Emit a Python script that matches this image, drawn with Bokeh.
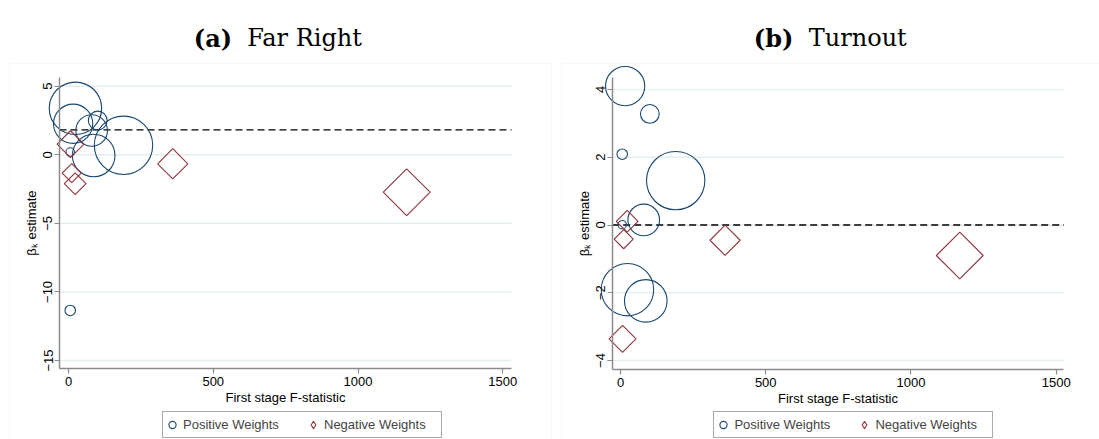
import numpy as np
from bokeh.plotting import figure
from bokeh.layouts import row
from bokeh.models import (ColumnDataSource, Label, Legend, LegendItem,
                          FixedTicker, Range1d, BoxAnnotation)
from bokeh.embed import file_html
from bokeh.resources import INLINE

# ---------------- data ----------------
# first-stage F statistics of each instrument (shared by both panels)
pos_f = [24, 16, 101, 80, 87, 190, 6, 6]
neg_f = [7, 11, 23, 360, 1168]
# absolute weights (marker area proportional to weight)
pos_w = [0.25, 0.14, 0.032, 0.091, 0.165, 0.31, 0.0065, 0.010]
neg_w = [0.066, 0.033, 0.043, 0.083, 0.20]
# beta_k estimates
far_right_pos = [3.39, 2.26, 2.5, 1.77, -0.05, 0.69, 0.2, -11.35]
far_right_neg = [0.77, -1.34, -2.11, -0.66, -2.73]
turnout_pos = [-1.91, 4.10, 3.28, 0.15, -2.24, 1.31, 0.01, 2.09]
turnout_neg = [-3.36, -0.42, 0.11, -0.45, -0.90]
# overall estimates (dashed lines)
far_right_beta = 1.82
turnout_beta = 0.0

x_ticks = [0, 500, 1000, 1500]
far_right_yticks = [-15, -10, -5, 0, 5]
turnout_yticks = [-4, -2, 0, 2, 4]

NAVY = "#1a476f"
MAROON = "#90353b"
AXIS = "#8c8c8c"
SANS = "Liberation Sans"
SERIF = "DejaVu Serif"
PX_PER_SQRT_W = 52.4
H = 439


def lin(p0, v0, p1, v1):
    k = (v1 - v0) / (p1 - p0)
    return lambda px: v0 + (px - p0) * k


def panel(width, xanchor, yanchor, ax_left, ax_right, ax_top, ax_bottom,
          yticks, ypos, yneg, beta, tag, name, tag_x, name_x,
          box_left, box_right, leg_x):
    fx = lin(*xanchor)
    fy = lin(*yanchor)
    p = figure(width=width, height=H, output_backend="svg", toolbar_location=None,
               x_range=Range1d(fx(0), fx(width)), y_range=Range1d(fy(H), fy(0)),
               min_border=0, min_border_left=0, min_border_right=0,
               min_border_top=0, min_border_bottom=0)
    p.title = None
    p.outline_line_color = None
    p.background_fill_color = "white"
    p.border_fill_color = "white"
    p.xgrid.visible = False
    p.ygrid.visible = False

    x_lo, x_hi = fx(ax_left), fx(ax_right)
    y_lo, y_hi = fy(ax_bottom), fy(ax_top)

    # panel border
    p.add_layout(BoxAnnotation(left=box_left, right=box_right, top=63, bottom=H + 30,
                               left_units="canvas", right_units="canvas",
                               top_units="canvas", bottom_units="canvas",
                               fill_alpha=0, line_color="#e4e4e4", line_width=1,
                               level="underlay"))

    # horizontal grid lines at the y ticks
    p.segment(x0=[x_lo] * len(yticks), x1=[x_hi] * len(yticks), y0=yticks, y1=yticks,
              line_color="#e4eef0", line_width=1.5)

    for ax in (p.xaxis[0], p.yaxis[0]):
        ax.axis_line_color = AXIS
        ax.axis_line_width = 1.5
        ax.major_tick_line_color = AXIS
        ax.major_tick_line_width = 1.2
        ax.major_tick_out = 5
        ax.major_tick_in = 0
        ax.minor_tick_line_color = None
        ax.major_label_text_font = SANS
        ax.major_label_text_font_size = "13px"
        ax.major_label_text_color = "black"
        ax.axis_label_text_font = SANS
        ax.axis_label_text_font_size = "13px"
        ax.axis_label_text_font_style = "normal"
        ax.axis_label_text_color = "black"
    p.xaxis.ticker = FixedTicker(ticks=x_ticks)
    p.yaxis.ticker = FixedTicker(ticks=yticks)
    p.xaxis.fixed_location = y_lo
    p.yaxis.fixed_location = x_lo
    p.xaxis.bounds = (x_lo, x_hi)
    p.yaxis.bounds = (y_lo, y_hi)
    p.yaxis.major_label_orientation = "vertical"
    p.xaxis.major_label_standoff = 3
    p.yaxis.major_label_standoff = 2
    p.xaxis.axis_label = "First stage F-statistic"
    p.yaxis.axis_label = "\u03b2\u2096 estimate"
    p.xaxis.axis_label_standoff = 1
    p.yaxis.axis_label_standoff = 2

    # dashed line at the overall estimate
    p.segment(x0=[x_lo], x1=[x_hi], y0=[beta], y1=[beta], line_color="black",
              line_dash="7 4", line_width=1.3)

    spos = ColumnDataSource(dict(x=pos_f, y=ypos,
                                 s=[2 * PX_PER_SQRT_W * np.sqrt(w) for w in pos_w]))
    sneg = ColumnDataSource(dict(x=neg_f, y=yneg,
                                 s=[np.sqrt(2) * PX_PER_SQRT_W * np.sqrt(w) for w in neg_w]))
    rp = p.scatter("x", "y", size="s", source=spos, marker="circle", fill_color=None,
                   line_color=NAVY, line_width=1.1)
    p.scatter("x", "y", size="s", source=sneg, marker="square", angle=np.pi / 4,
              fill_color=None, line_color=MAROON, line_width=1.1)
    # legend key for the diamonds (no visible data)
    rn_key = p.scatter(x=[np.nan], y=[np.nan], marker="diamond", fill_color=None,
                       line_color=MAROON, line_width=1.1)

    leg = Legend(items=[LegendItem(label="Positive Weights", renderers=[rp]),
                        LegendItem(label="Negative Weights", renderers=[rn_key])],
                 location=(leg_x, 1), orientation="horizontal",
                 padding=0, spacing=4, glyph_width=18, glyph_height=25,
                 label_standoff=2, label_width=117, label_height=25, margin=0,
                 label_text_font=SANS, label_text_font_size="13px",
                 border_line_color="#555555", border_line_width=1,
                 background_fill_color="white", background_fill_alpha=1)
    p.add_layout(leg, "center")

    base_y = H - 37.7
    p.add_layout(Label(x=tag_x, y=base_y, x_units="screen", y_units="screen",
                       text=tag, text_font=SERIF, text_font_style="bold",
                       text_font_size="24px", text_baseline="alphabetic",
                       text_color="black"))
    p.add_layout(Label(x=name_x, y=base_y, x_units="screen", y_units="screen",
                       text=name, text_font=SERIF, text_font_size="24px",
                       text_baseline="alphabetic", text_color="black"))
    return p


p1 = panel(556, (68, 0, 502.3, 1500), (85.7, 5, 360, -15), 59, 511, 77, 368,
           far_right_yticks, far_right_pos, far_right_neg, far_right_beta,
           "(a)", "Far Right", 193.3, 246.7, 9, 551, 162)
o = 556
p2 = panel(543, (620 - o, 0, 1055.7 - o, 1500), (89, 4, 360, -4),
           611.7 - o, 1063.3 - o, 77, 369.3,
           turnout_yticks, turnout_pos, turnout_neg, turnout_beta,
           "(b)", "Turnout", 753.3 - o, 808.3 - o, 5, 570, 713.4 - o)

layout = row(p1, p2)
open("out.html", "w").write(file_html(layout, INLINE))
